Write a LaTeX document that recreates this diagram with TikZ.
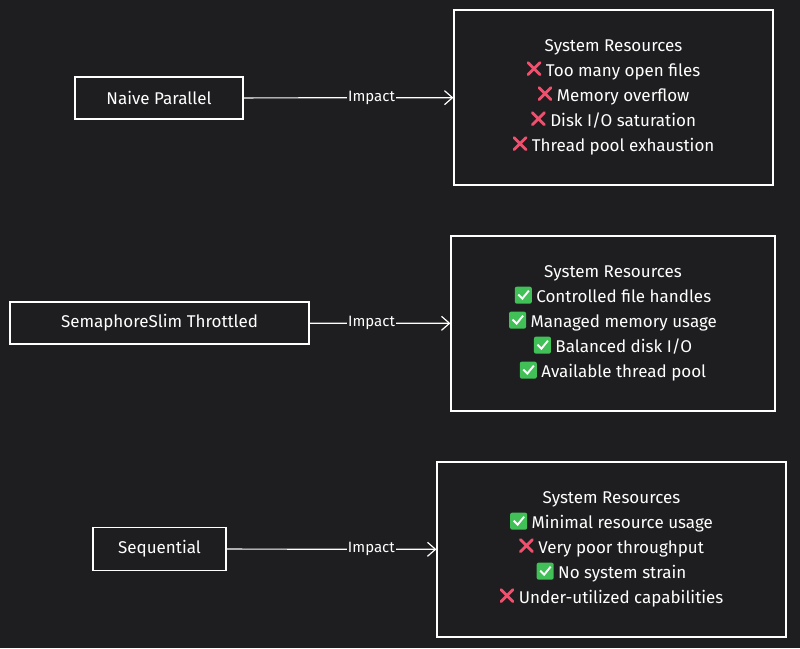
\documentclass[tikz,border=0pt]{standalone}
\usepackage{fontspec}
\setmainfont{Fira Sans}
\usetikzlibrary{arrows.meta}
\definecolor{bgdark}{HTML}{1E1E20}
\definecolor{xred}{HTML}{F0506E}
\definecolor{okgreen}{HTML}{40C057}
\newcommand{\badmark}{\tikz[baseline=-5pt,x=1pt,y=1pt]{\draw[xred,line width=2.8pt,line cap=round] (0,-3)--(12,9) (0,9)--(12,-3);}}
\newcommand{\goodmark}{\tikz[baseline=-5pt,x=1pt,y=1pt]{\fill[okgreen,rounded corners=2pt] (-1,-6) rectangle (16,11);\draw[white,line width=1.9pt] (2.5,3)--(6.5,-1)--(13,7);}}
\tikzstyle{box} = [draw=white,line width=1.2pt,font=\fontsize{17}{19}\selectfont,text=white]
\tikzstyle{res} = [box,align=center,font=\fontsize{17}{25}\selectfont]
\tikzstyle{lbl} = [fill=bgdark,text=white,inner sep=1pt,font=\fontsize{15}{17}\selectfont]

\begin{document}
\begin{tikzpicture}[x=1pt,y=-1pt,>={Straight Barb[length=8pt,width=14pt]}]
\fill[bgdark] (0,0) rectangle (800,648);

\node[box, minimum width=168pt, minimum height=42pt] (naive) at (159,98) {Naive Parallel};
\node[box, minimum width=299pt, minimum height=42pt] (sema) at (159.5,323) {SemaphoreSlim Throttled};
\node[box, minimum width=133pt, minimum height=43pt] (seq) at (159.5,549) {Sequential};

\node[res, minimum width=319pt, minimum height=175pt] (res1) at (613.5,97.5) {System Resources\\
\badmark\ Too many open files\\ \badmark\ Memory overflow\\
\badmark\ Disk I/O saturation\\ \badmark\ Thread pool exhaustion};
\node[res, minimum width=324pt, minimum height=175pt] (res2) at (613,323.5) {System Resources\\
\goodmark\ Controlled file handles\\ \goodmark\ Managed memory usage\\
\goodmark\ Balanced disk I/O\\ \goodmark\ Available thread pool};
\node[res, minimum width=349pt, minimum height=175pt] (res3) at (611.5,549.5) {System Resources\\
\goodmark\ Minimal resource usage\\ \badmark\ Very poor throughput\\
\goodmark\ No system strain\\ \badmark\ Under-utilized capabilities};

\draw[->,white,line width=1.2pt] (naive) -- node[lbl,pos=0.61] {Impact} (res1);
\draw[->,white,line width=1.2pt] (sema) -- node[lbl,pos=0.44] {Impact} (res2);
\draw[->,white,line width=1.2pt] (seq) -- node[lbl,pos=0.69] {Impact} (res3);
\end{tikzpicture}
\end{document}
